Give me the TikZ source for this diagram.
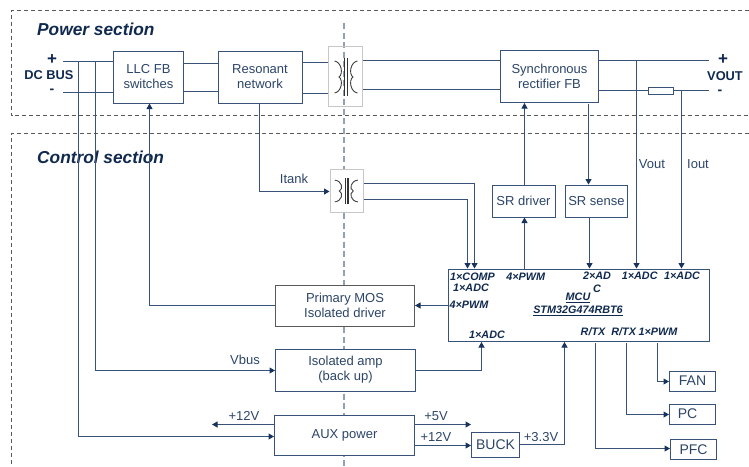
\documentclass[tikz,border=0pt]{standalone}
\usepackage{fontspec}
\setmainfont{Liberation Sans}
\usetikzlibrary{arrows.meta,calc}
\definecolor{ln}{HTML}{38527A}
\definecolor{tx}{HTML}{2C4568}
\definecolor{navy}{HTML}{10294F}
\definecolor{tip}{HTML}{17335E}
\tikzset{
  x=1pt,y=-1pt,
  box/.style={draw=ln,line width=1pt,fill=white,inner sep=0pt,align=center,text=tx,font=\fontsize{13}{15}\selectfont},
  bigbox/.style={box,font=\fontsize{14}{16}\selectfont},
  wire/.style={draw=ln,line width=1pt},
  arr/.style={wire,-{Triangle[length=5.5pt,width=6pt,color=tip]}},
  sect/.style={draw=black!65,line width=.8pt,dash pattern=on 4pt off 3pt},
  lbl/.style={text=tx,inner sep=0pt,font=\fontsize{13}{15}\selectfont},
  pin/.style={text=navy,inner sep=0pt,font=\fontsize{10.8}{12}\selectfont\bfseries\itshape},
  head/.style={text=navy,inner sep=0pt,anchor=west,font=\fontsize{17.3}{19}\selectfont\bfseries\itshape},
  sign/.style={text=navy,inner sep=0pt,font=\fontsize{17}{18}\selectfont\bfseries},
  dash sign/.style={text=navy,inner sep=0pt,font=\fontsize{14}{14}\selectfont\bfseries},
  term/.style={text=navy,inner sep=0pt,font=\fontsize{12.8}{14}\selectfont\bfseries},
  xfbox/.style={draw=black!22,line width=1pt,inner sep=0pt},
  pics/xf/.style={code={
    \draw[black!75,line width=.9pt] (-12,-16) .. controls (-5,-15) and (-3,-3) .. (-7.5,0) .. controls (-3,3) and (-5,15) .. (-12,16);
    \draw[black!75,line width=.9pt] (11,-16) .. controls (4,-15) and (2,-3) .. (6.5,0) .. controls (2,3) and (4,15) .. (11,16);
    \draw[black!80,line width=1.1pt] (-1.6,-19) -- (-1.6,19);
    \draw[black!80,line width=1.1pt] (1.2,-19) -- (1.2,19);
  }}
}
\begin{document}
\begin{tikzpicture}
\useasboundingbox (0,0) rectangle (749,466);
% section frames
\coordinate (pTL) at (11.5,10); \coordinate (pTR) at (749,10);
\coordinate (pBL) at (11.5,115.5); \coordinate (pBR) at (749,115.5);
\coordinate (cTL) at (11.5,133.5); \coordinate (cTR) at (749,133.5);
\coordinate (cBL) at (11.5,466);
\draw[sect] (pTR) -- (pTL) -- (pBL) -- (pBR);
\draw[sect] (cTR) -- (cTL) -- (cBL);
% isolation line
\coordinate (isoT) at (344,23); \coordinate (isoB) at (344,466);
\draw[draw=ln!55,line width=1.1pt,dash pattern=on 6pt off 3.5pt] (isoT) -- (isoB);
% headings
\node[head] (hp) at (37,29.5) {Power section};
\node[head] (hc) at (37,157.5) {Control section};
% blocks
\node[box,minimum width=70pt,minimum height=52pt] (llc) at (148.5,77) {LLC FB\\switches};
\node[box,minimum width=84pt,minimum height=52pt] (res) at (260,77) {Resonant\\network};
\node[box,minimum width=98pt,minimum height=52pt] (sync) at (549.5,76.5) {Synchronous\\rectifier FB};
\node[xfbox,minimum width=34pt,minimum height=60pt] (x1) at (345.5,76.5) {};
\pic at (346.5,77) {xf};
\node[xfbox,fill=white,minimum width=33pt,minimum height=43pt] (x2) at (346.5,190.5) {};
\pic[yscale=.68] at (346.8,191) {xf};
\node[box,minimum width=63pt,minimum height=32pt] (srd) at (523.5,201) {SR driver};
\node[box,minimum width=62pt,minimum height=32pt] (srs) at (596.5,201) {SR sense};
\node[box,draw=black!65,minimum width=139pt,minimum height=41pt] (mos) at (345,305.5) {Primary MOS\\Isolated driver};
\node[box,minimum width=140pt,minimum height=42pt] (amp) at (345.5,370) {Isolated amp\\(back up)};
\node[box,minimum width=140pt,minimum height=40pt] (aux) at (344.5,435.5) {AUX power};
\node[bigbox,minimum width=48pt,minimum height=25pt] (buck) at (495.5,444.5) {BUCK};
\node[box,minimum width=261pt,minimum height=72pt] (mcu) at (578.5,305) {};
\node[bigbox,minimum width=46pt,minimum height=20pt] (fan) at (692.5,381) {FAN};
\node[bigbox,minimum width=46pt,minimum height=20pt] (pc) at (692.5,414) {PC\hspace*{10pt}};
\node[bigbox,minimum width=46pt,minimum height=20pt] (pfc) at (693.5,449.5) {PFC};
\draw[draw=ln,line width=1pt,fill=white] (648.5,87.5) rectangle (673.5,94.5) node[midway,inner sep=0pt] (rs) {};
% terminals
\coordinate (dcP) at (63,61.5); \coordinate (dcN) at (63,92.5);
\coordinate (outP) at (709,60.5); \coordinate (outN) at (709,90.5);
\coordinate (rsL) at (648.5,90.5); \coordinate (rsR) at (673.5,90.5);
% power path
\draw[wire] (dcP) -- (llc.west |- dcP);
\draw[wire] (dcN) -- (llc.west |- dcN);
\draw[wire] (llc.east |- 0,63.5) -- (res.west |- 0,63.5);
\draw[wire] (llc.east |- 0,91.5) -- (res.west |- 0,91.5);
\draw[wire] (res.east |- 0,62.5) -- (x1.west |- 0,62.5);
\draw[wire] (res.east |- 0,93.5) -- (x1.west |- 0,93.5);
\draw[wire] (x1.east |- 0,60.5) -- (sync.west |- 0,60.5);
\draw[wire] (x1.east |- 0,89.5) -- (sync.west |- 0,89.5);
\draw[wire] (sync.east |- outP) -- (outP);
\draw[wire] (sync.east |- rsL) -- (rsL);
\draw[wire] (rsR) -- (outN);
% sensing and supply branches
\draw[arr] (78.5,61.5) -- (78.5,436.5) -- (aux.west |- 0,436.5);
\draw[arr] (95.5,61.5) -- (95.5,370.5) -- (amp.west |- 0,370.5);
\draw[arr] (259.5,103) -- (259.5,191.5) -- (x2.west |- 0,191.5);
\draw[arr] (x2.east |- 0,183.5) -- (474.5,183.5) -- (474.5,268.5);
\draw[arr] (x2.east |- 0,199.5) -- (467.5,199.5) -- (467.5,268.5);
\draw[arr] (mos.west) -- (149.5,305.5) -- (149.5,103.5);
\draw[arr] (636.5,60.5) -- (636.5,268.5);
\draw[arr] (681.5,90.5) -- (681.5,268.5);
\draw[arr] (524.5,269) -- (524.5,217.5);
\draw[arr] (524.5,185) -- (524.5,103);
\draw[arr] (588.5,104) -- (588.5,184.5);
\draw[arr] (589.5,217) -- (589.5,268.5);
\draw[arr] (mcu.west |- 0,305.5) -- (mos.east |- 0,305.5);
\draw[arr] (amp.east |- 0,370.5) -- (481.5,370.5) -- (481.5,342);
\draw[arr] (aux.east |- 0,424.5) -- (471,424.5);
\draw[arr] (aux.east |- 0,445.5) -- (buck.west |- 0,445.5);
\draw[arr] (aux.west |- 0,424.5) -- (212,424.5);
\draw[arr] (buck.east |- 0,444.5) -- (564.5,444.5) -- (564.5,342);
\draw[arr] (657.5,343) -- (657.5,381.5) -- (fan.west |- 0,381.5);
\draw[arr] (626.5,343) -- (626.5,414.5) -- (pc.west |- 0,414.5);
\draw[arr] (595.5,343) -- (595.5,448.5) -- (pfc.west |- 0,448.5);
% terminal labels
\node[sign] (p1) at (52,60) {+};
\node[dash sign] (m1) at (52,91.5) {-};
\node[term] (dc) at (49,75) {DC BUS};
\node[sign] (p2) at (723,60) {+};
\node[dash sign] (m2) at (720,92.5) {-};
\node[term] (vo) at (725,76) {VOUT};
% signal labels
\node[lbl] (l1) at (294,179) {Itank};
\node[lbl] (l2) at (652,164) {Vout};
\node[lbl] (l3) at (698,164) {Iout};
\node[lbl] (l4) at (245,360) {Vbus};
\node[lbl] (l5) at (244,416) {+12V};
\node[lbl] (l6) at (436,416) {+5V};
\node[lbl] (l7) at (436,437) {+12V};
\node[lbl] (l8) at (541,437) {+3.3V};
% MCU pins
\node[pin] (a1) at (472.5,277) {1×COMP};
\node[pin] (a2) at (471,288) {1×ADC};
\node[pin] (a3) at (469,304.5) {4×PWM};
\node[pin] (a4) at (525.7,276.5) {4×PWM};
\node[pin] (a5) at (597,276) {2×AD};
\node[pin] (a6) at (597,289) {C};
\node[pin] (a7) at (639.7,276) {1×ADC};
\node[pin] (a8) at (682,276) {1×ADC};
\node[pin] (a9) at (578,297.5) {\underline{MCU}};
\node[pin] (a10) at (578,310.5) {\underline{STM32G474RBT6}};
\node[pin] (a11) at (487,334.5) {1×ADC};
\node[pin] (a12) at (593,332) {R/TX};
\node[pin] (a13) at (623.7,332) {R/TX};
\node[pin] (a14) at (658,332) {1×PWM};
\end{tikzpicture}
\end{document}
